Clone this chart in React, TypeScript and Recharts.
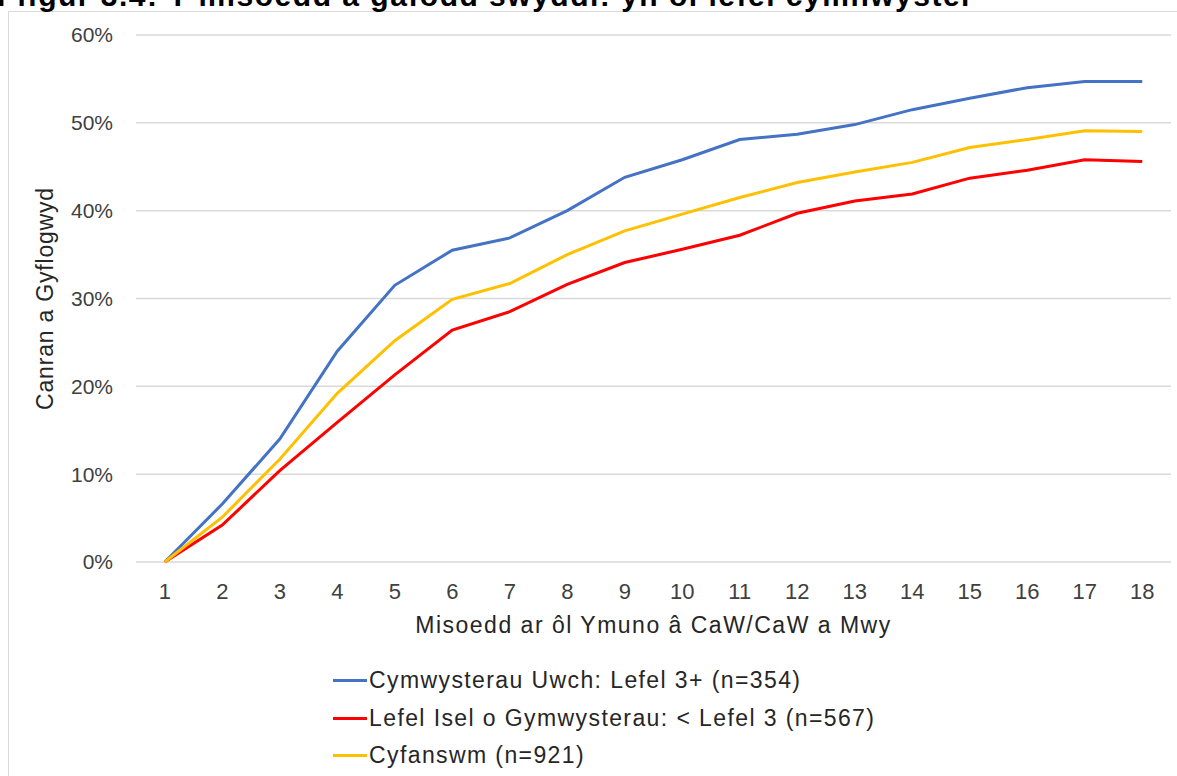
import React from 'react';
import { LineChart, Line, XAxis, YAxis, CartesianGrid, Legend } from 'recharts';

const months = ['1', '2', '3', '4', '5', '6', '7', '8', '9', '10', '11', '12', '13', '14', '15', '16', '17', '18'];

const uwch = [0, 6.6, 14.0, 24.0, 31.5, 35.5, 36.9, 40.0, 43.8, 45.8, 48.1, 48.7, 49.8, 51.5, 52.8, 54.0, 54.7, 54.7];
const isel = [0, 4.2, 10.4, 15.9, 21.3, 26.4, 28.5, 31.6, 34.1, 35.6, 37.2, 39.7, 41.1, 41.9, 43.7, 44.6, 45.8, 45.6];
const cyfanswm = [0, 5.1, 11.7, 19.2, 25.2, 29.9, 31.7, 35.0, 37.7, 39.6, 41.5, 43.2, 44.4, 45.5, 47.2, 48.1, 49.1, 49.0];

const yTicks = [0, 10, 20, 30, 40, 50, 60];

const seriesNames = {
  uwch: 'Cymwysterau Uwch: Lefel 3+ (n=354)',
  isel: 'Lefel Isel o Gymwysterau: < Lefel 3 (n=567)',
  cyfanswm: 'Cyfanswm (n=921)',
};

const FONT = '"Liberation Sans", Arial, sans-serif';

const data = months.map((m, i) => ({
  month: m,
  uwch: uwch[i],
  isel: isel[i],
  cyfanswm: cyfanswm[i],
}));

const legendItems = [
  { key: 'uwch', color: '#4472C4' },
  { key: 'isel', color: '#FF0000' },
  { key: 'cyfanswm', color: '#FFC000' },
];

const CustomLegend = () => (
  <div style={{ fontFamily: FONT, fontSize: 23, letterSpacing: 1.4, color: '#262626' }}>
    {legendItems.map((item) => (
      <div key={item.key} style={{ display: 'flex', alignItems: 'center', height: 37.5, whiteSpace: 'nowrap' }}>
        <span style={{ display: 'inline-block', width: 34, height: 3, background: item.color, marginRight: 2 }} />
        <span>{seriesNames[item.key as keyof typeof seriesNames]}</span>
      </div>
    ))}
  </div>
);

export default function App() {
  return (
    <div style={{ position: 'absolute', left: 0, top: 0, width: 1177, height: 776, overflow: 'hidden', background: '#fff' }}>
      <div
        style={{
          position: 'absolute',
          left: 8,
          top: 11,
          width: 1200,
          height: 800,
          borderLeft: '1px solid #d9d9d9',
          borderTop: '1px solid #d9d9d9',
        }}
      />
      <div
        style={{
          position: 'absolute',
          left: -3,
          top: -19,
          fontFamily: FONT,
          fontWeight: 'bold',
          fontSize: 30,
          lineHeight: '30px',
          letterSpacing: 1.5,
          whiteSpace: 'nowrap',
          color: '#000',
        }}
      >
        Ffigur 3.4: Y misoedd a gafodd swyddi: yn ôl lefel cymhwyster
      </div>
      <div style={{ position: 'absolute', left: 0, top: 0 }}>
        <LineChart width={1177} height={776} data={data} margin={{ top: 35, right: 6, bottom: 114, left: 0 }}>
          <CartesianGrid vertical={false} stroke="#d9d9d9" strokeWidth={1.5} />
          <XAxis
            dataKey="month"
            axisLine={false}
            tickLine={false}
            interval={0}
            height={100}
            padding={{ left: 28.75, right: 28.75 }}
            tickMargin={15}
            tick={{ fill: '#404040', fontSize: 22, fontFamily: FONT }}
            label={{
              value: 'Misoedd ar ôl Ymuno â CaW/CaW a Mwy',
              position: 'insideTop',
              offset: 55,
              fill: '#262626',
              fontSize: 23,
              letterSpacing: 1.5,
              fontFamily: FONT,
            }}
          />
          <YAxis
            domain={[0, 60]}
            ticks={yTicks}
            axisLine={false}
            tickLine={false}
            width={136}
            tickMargin={17}
            tickFormatter={(v) => `${v}%`}
            tick={{ fill: '#404040', fontSize: 21, fontFamily: FONT }}
            label={{
              value: 'Canran a Gyflogwyd',
              angle: -90,
              position: 'center',
              dx: -23,
              fill: '#262626',
              fontSize: 23,
              letterSpacing: 0.8,
              fontFamily: FONT,
            }}
          />
          <Legend
            layout="vertical"
            verticalAlign="middle"
            align="center"
            wrapperStyle={{ top: 662, left: 333, width: 700 }}
            content={<CustomLegend />}
          />
          <Line type="linear" dataKey="uwch" name={seriesNames.uwch} stroke="#4472C4" strokeWidth={3} dot={false} isAnimationActive={false} />
          <Line type="linear" dataKey="isel" name={seriesNames.isel} stroke="#FF0000" strokeWidth={3} dot={false} isAnimationActive={false} />
          <Line type="linear" dataKey="cyfanswm" name={seriesNames.cyfanswm} stroke="#FFC000" strokeWidth={3} dot={false} isAnimationActive={false} />
        </LineChart>
      </div>
    </div>
  );
}
